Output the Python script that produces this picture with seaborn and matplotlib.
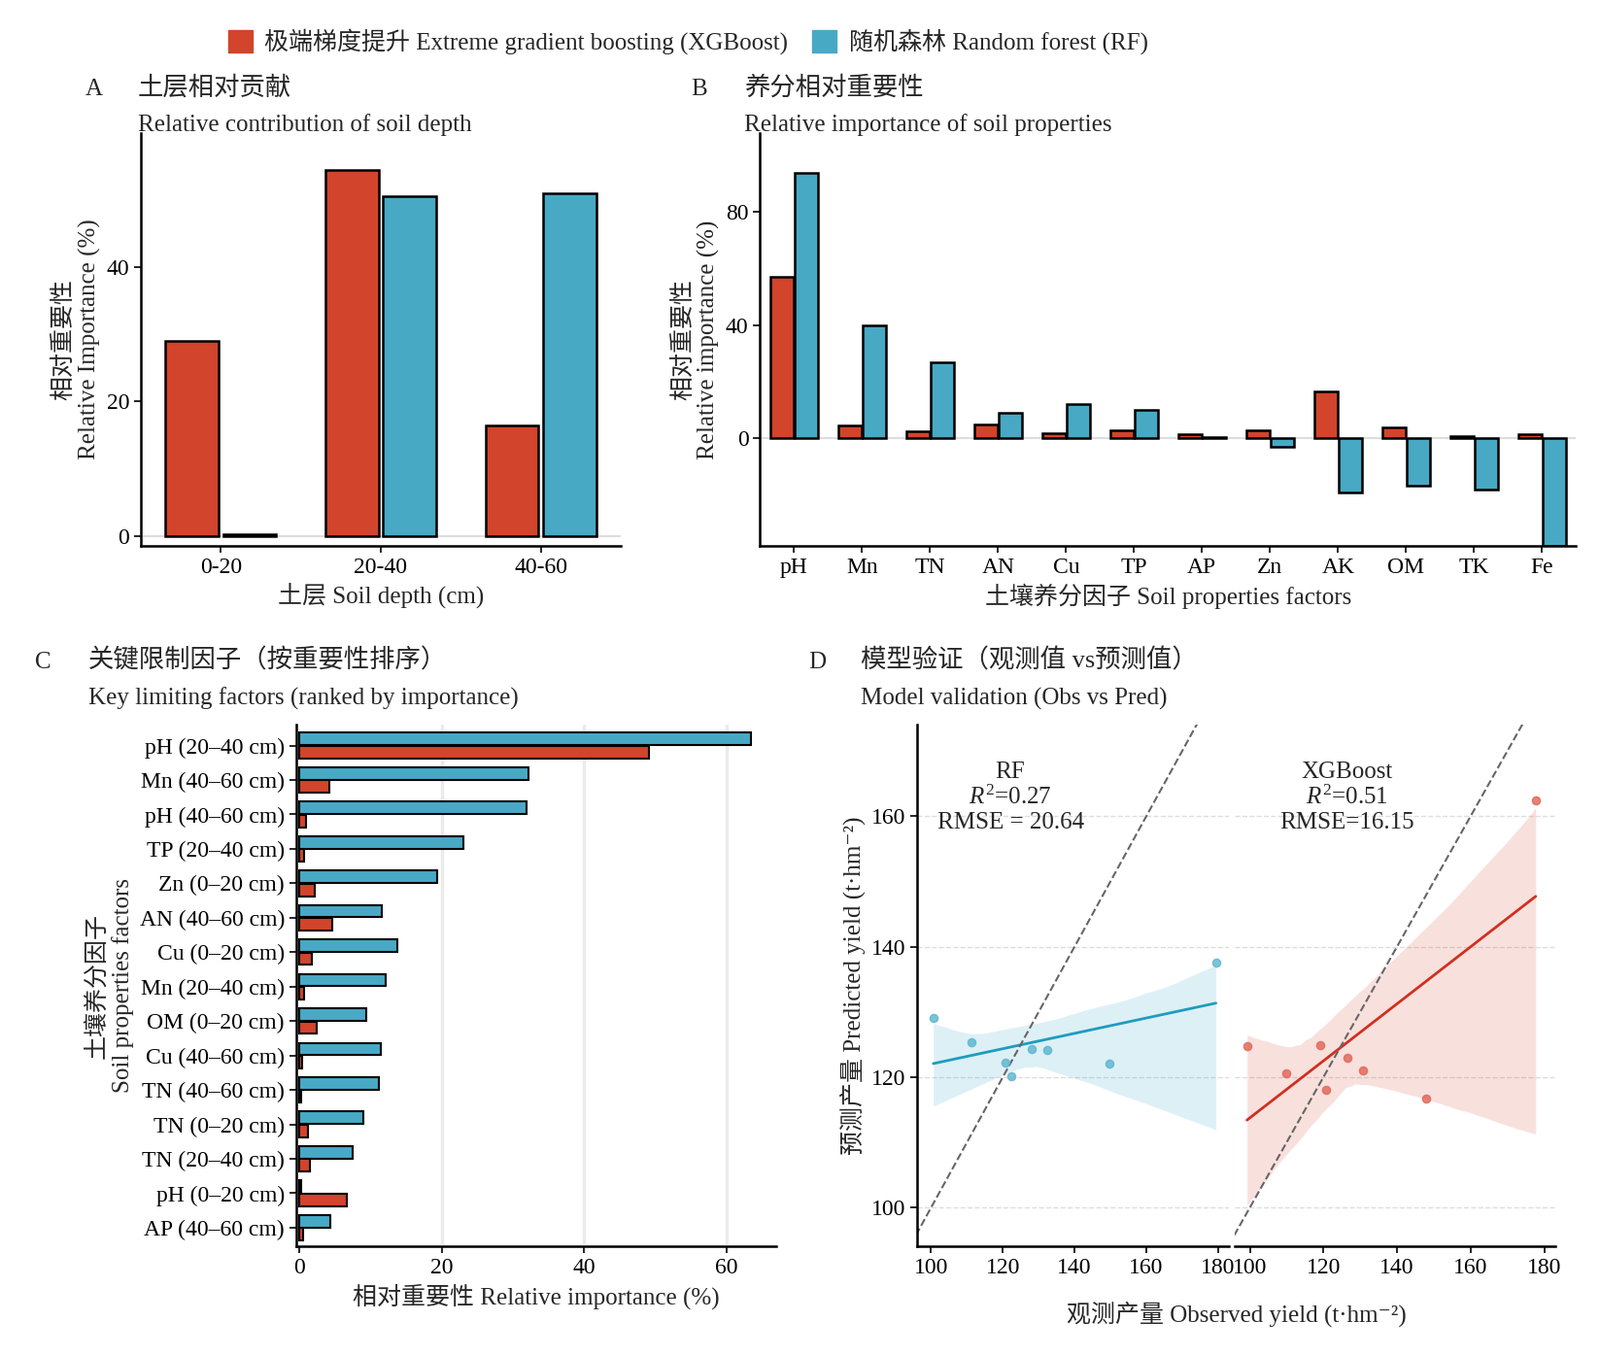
import matplotlib
matplotlib.use("Agg")
import matplotlib.pyplot as plt
import seaborn as sns
import numpy as np
import pandas as pd
from matplotlib.patches import Patch

sns.set_theme(style="ticks")
plt.rcParams['font.family'] = ['Liberation Serif', 'Noto Sans CJK SC', 'DejaVu Sans']
plt.rcParams['font.size'] = 17
plt.rcParams['mathtext.fontset'] = 'custom'
plt.rcParams['mathtext.rm'] = 'Liberation Serif'
plt.rcParams['mathtext.it'] = 'Liberation Serif:italic'

RED = "#D2442B"
BLUE = "#48A9C5"

# Panel A
depths = ["0-20", "20-40", "40-60"]
a_xgb = [29.0, 54.5, 16.5]
a_rf = [0.3, 50.5, 51.0]
# Panel B
factors = ["pH", "Mn", "TN", "AN", "Cu", "TP", "AP", "Zn", "AK", "OM", "TK", "Fe"]
b_xgb = [57, 4.5, 2.5, 5, 2, 3, 1.5, 3, 16.5, 4, 1, 1.5]
b_rf = [94, 40, 27, 9, 12, 10, 0.5, -3, -19, -16.5, -18, -38]
# Panel C
c_labels = ["pH (20–40 cm)", "Mn (40–60 cm)", "pH (40–60 cm)", "TP (20–40 cm)", "Zn (0–20 cm)",
            "AN (40–60 cm)", "Cu (0–20 cm)", "Mn (20–40 cm)", "OM (0–20 cm)", "Cu (40–60 cm)",
            "TN (40–60 cm)", "TN (0–20 cm)", "TN (20–40 cm)", "pH (0–20 cm)", "AP (40–60 cm)"]
c_rf = [63.5, 32.2, 31.9, 23, 19.3, 11.5, 13.8, 12.1, 9.4, 11.4, 11.2, 8.9, 7.5, 0.2, 4.3]
c_xgb = [49.2, 4.2, 0.9, 0.6, 2.2, 4.6, 1.7, 0.7, 2.4, 0.3, 0.2, 1.2, 1.4, 6.6, 0.5]
# Panel D
rf_obs = [100.6, 111.3, 120.7, 122.4, 128.0, 132.3, 149.6, 179.4]
rf_pred = [129.0, 125.4, 122.2, 120.2, 124.3, 124.1, 122.0, 137.5]
xgb_obs = [99.2, 109.9, 119.2, 120.6, 126.6, 130.8, 148.0, 177.7]
xgb_pred = [124.7, 120.6, 124.9, 118.0, 123.0, 121.0, 116.7, 162.5]

fig = plt.figure(figsize=(16.47, 13.95), dpi=100)

def style(ax):
    sns.despine(ax=ax)
    for s in ["left", "bottom"]:
        ax.spines[s].set_linewidth(1.8)
        ax.spines[s].set_color("black")
    ax.tick_params(labelsize=17, width=1.2, length=5, colors="black")

def header(x, y, letter, cn, en):
    fig.text(x, y, letter, fontsize=18)
    fig.text(x + 0.033, y, cn, fontsize=19)
    fig.text(x + 0.033, y - 0.027, en, fontsize=18)

# Panel A
axA = fig.add_axes([0.088, 0.597, 0.30, 0.305])
dfA = pd.DataFrame({"d": depths * 2, "v": a_xgb + a_rf, "m": ["XGB"] * 3 + ["RF"] * 3})
sns.barplot(data=dfA, x="d", y="v", hue="m", palette=[RED, BLUE], ax=axA, saturation=1,
            edgecolor="black", linewidth=1.8, width=0.72, gap=0.08, legend=False)
axA.axhline(0, color="#dddddd", lw=1.5, zorder=0)
axA.set_ylim(-1.5, 60)
axA.set_yticks([0, 20, 40])
axA.set_xlabel("土层 Soil depth (cm)", fontsize=18)
axA.set_ylabel("相对重要性\nRelative Importance (%)", fontsize=18)
style(axA)
header(0.053, 0.930, "A", "土层相对贡献", "Relative contribution of soil depth")

# Panel B
axB = fig.add_axes([0.475, 0.597, 0.51, 0.305])
dfB = pd.DataFrame({"f": factors * 2, "v": b_xgb + b_rf, "m": ["XGB"] * 12 + ["RF"] * 12})
sns.barplot(data=dfB, x="f", y="v", hue="m", palette=[RED, BLUE], ax=axB, saturation=1,
            edgecolor="black", linewidth=1.8, width=0.72, gap=0.05, legend=False)
axB.axhline(0, color="#dddddd", lw=1.5, zorder=0)
axB.set_ylim(-38, 108)
axB.set_yticks([0, 40, 80])
axB.set_xlabel("土壤养分因子 Soil properties factors", fontsize=18)
axB.set_ylabel("相对重要性\nRelative importance (%)", fontsize=18)
style(axB)
header(0.432, 0.930, "B", "养分相对重要性", "Relative importance of soil properties")

# Panel C
axC = fig.add_axes([0.185, 0.08, 0.30, 0.385])
n = len(c_labels)
y = np.arange(n)
axC.barh(y - 0.19, c_rf, height=0.36, color=BLUE, edgecolor="black", linewidth=1.5)
axC.barh(y + 0.19, c_xgb, height=0.36, color=RED, edgecolor="black", linewidth=1.5)
axC.set_yticks(y)
axC.set_yticklabels(c_labels, fontsize=18)
axC.set_ylim(n - 0.45, -0.6)
axC.set_xlim(-0.5, 67)
axC.set_xticks([0, 20, 40, 60])
for gx in [20, 40, 60]:
    axC.axvline(gx, color="#ebebeb", lw=2.5, zorder=0)
axC.set_xlabel("相对重要性 Relative importance (%)", fontsize=18)
axC.set_ylabel("土壤养分因子\nSoil properties factors", fontsize=18)
style(axC)
header(0.022, 0.507, "C", "关键限制因子（按重要性排序）", "Key limiting factors (ranked by importance)")

# Panel D
axD1 = fig.add_axes([0.573, 0.08, 0.195, 0.385])
axD2 = fig.add_axes([0.772, 0.08, 0.20, 0.385], sharey=axD1)
for ax, xo, yp, col, lc, txt, tx in [
        (axD1, rf_obs, rf_pred, "#5AB4D0", "#1E9CBF", "RF\n$R^2$=0.27\nRMSE = 20.64", 0.30),
        (axD2, xgb_obs, xgb_pred, "#E06455", "#D0301E", "XGBoost\n$R^2$=0.51\nRMSE=16.15", 0.35)]:
    for gy in [100, 120, 140, 160]:
        ax.axhline(gy, color="#dddddd", lw=1, ls="--", zorder=0)
    sns.regplot(x=xo, y=yp, ax=ax, color=col, scatter_kws=dict(s=35, color=col, zorder=3),
                line_kws=dict(color=lc, lw=2))
    ax.plot([90, 190], [90, 190], ls="--", color="#666666", lw=1.5)
    ax.set_xlim(96, 183)
    ax.set_xticks([100, 120, 140, 160, 180])
    ax.set_ylim(94, 174)
    ax.set_yticks([100, 120, 140, 160])
    ax.text(tx, 0.93, txt, transform=ax.transAxes, ha="center", va="top", fontsize=18,
            linespacing=1.15)
    style(ax)
axD2.spines["left"].set_visible(False)
axD2.tick_params(axis="y", left=False, labelleft=False)
axD1.set_ylabel("预测产量 Predicted yield (t·hm⁻²)", fontsize=18)
fig.text(0.773, 0.025, "观测产量 Observed yield (t·hm⁻²)", ha="center", fontsize=18)
header(0.505, 0.507, "D", "模型验证（观测值 vs预测值）", "Model validation (Obs vs Pred)")

fig.legend(handles=[Patch(color=RED, label="极端梯度提升 Extreme gradient boosting (XGBoost)"),
                    Patch(color=BLUE, label="随机森林 Random forest (RF)")],
           loc="upper center", bbox_to_anchor=(0.43, 0.995), ncol=2, frameon=False,
           fontsize=18, handlelength=1.0, handleheight=1.0, columnspacing=1.0, handletextpad=0.5)

fig.savefig("out.png", dpi=100)
